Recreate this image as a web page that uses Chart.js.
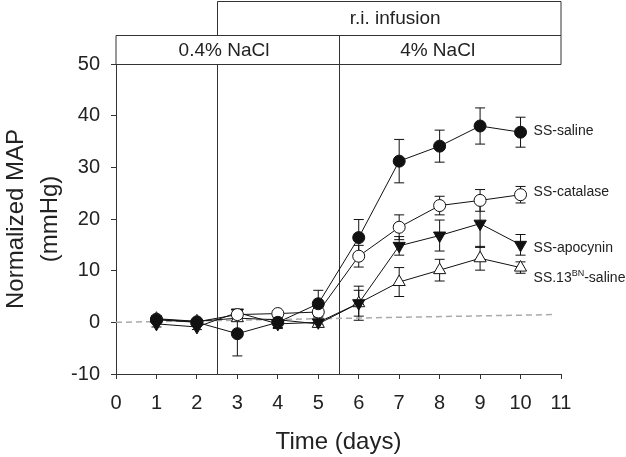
<!DOCTYPE html>
<html>
<head>
<meta charset="utf-8">
<title>Normalized MAP</title>
<script src="https://cdn.jsdelivr.net/npm/chart.js@4.4.1/dist/chart.umd.min.js"></script>
<style>
    body { margin: 0; background: #fff; }
    #chart { display: block; }
</style>
</head>
<body>
<canvas id="chart" width="626" height="457"></canvas>
<script>
// dados (dias 1-10)
const days = [1, 2, 3, 4, 5, 6, 7, 8, 9, 10];

const saline = [0.5, 0.0, -2.2, 0.0, 3.6, 16.4, 31.2, 34.1, 38.0, 36.8];
const salineErr = [0.7, 0.5, 4.3, 1.0, 2.6, 3.5, 4.2, 3.1, 3.5, 2.9];

const catalase = [0.6, 0.1, 1.5, 1.7, 2.0, 12.8, 18.4, 22.6, 23.6, 24.7];
const catalaseErr = [0.5, 0.4, 0.6, 0.5, 0.8, 2.1, 2.4, 1.8, 2.1, 1.6];

const apocynin = [-0.3, -0.9, 1.9, -0.3, 0.0, 3.7, 14.8, 16.8, 19.1, 15.0];
const apocyninErr = [0.6, 0.5, 0.5, 0.9, 0.4, 2.5, 1.8, 3.0, 4.6, 2.0];

const bnSaline = [0.7, 0.2, 0.8, 0.5, -0.3, 3.7, 7.8, 10.1, 12.4, 10.6];
const bnSalineErr = [0.6, 0.4, 0.5, 0.5, 0.6, 3.3, 2.8, 2.1, 2.3, 1.1];

// linha de referência tracejada
const baselineX = [0, 10.8];
const baselineY = [0, 1.5];

// eixos
const xTicks = [0, 11];
const yTicks = [-10, 50];

// fases do protocolo
const phaseLines = [2.5, 5.5];
const phaseLabels = ['r.i. infusion', '0.4% NaCl', '4% NaCl'];

const FONT = '"Liberation Sans", Arial, sans-serif';
const INK = '#222';

const toPoints = (xs, ys) => xs.map((x, i) => ({ x, y: ys[i] }));

function seriesDataset(label, values, errors, style) {
    return {
        label,
        data: toPoints(days, values),
        errors,
        borderColor: '#111',
        borderWidth: 1,
        pointStyle: style.shape,
        pointRotation: style.rotation || 0,
        pointRadius: style.radius,
        pointHoverRadius: style.radius,
        pointBackgroundColor: style.fill,
        pointBorderColor: '#111',
        pointBorderWidth: 1,
        tension: 0
    };
}

// barras de erro desenhadas antes dos marcadores
const errorBars = {
    id: 'errorBars',
    beforeDatasetsDraw(chart) {
        const { ctx, scales: { x, y } } = chart;
        ctx.save();
        ctx.strokeStyle = '#111';
        ctx.lineWidth = 1;
        chart.data.datasets.forEach(ds => {
            if (!ds.errors) return;
            ds.data.forEach((p, i) => {
                const px = x.getPixelForValue(p.x);
                const top = y.getPixelForValue(p.y + ds.errors[i]);
                const bottom = y.getPixelForValue(p.y - ds.errors[i]);
                ctx.beginPath();
                ctx.moveTo(px, top);
                ctx.lineTo(px, bottom);
                ctx.moveTo(px - 5, top);
                ctx.lineTo(px + 5, top);
                ctx.moveTo(px - 5, bottom);
                ctx.lineTo(px + 5, bottom);
                ctx.stroke();
            });
        });
        ctx.restore();
    }
};

// caixas do protocolo acima do gráfico e linhas verticais
const phaseBoxes = {
    id: 'phaseBoxes',
    beforeDatasetsDraw(chart) {
        const { ctx, chartArea, scales: { x } } = chart;
        const left = chartArea.left;
        const right = x.getPixelForValue(xTicks[1]);
        const startInf = Math.round(x.getPixelForValue(phaseLines[0])) + 0.5;
        const startSalt = Math.round(x.getPixelForValue(phaseLines[1])) + 0.5;
        const yTop = 1.5;
        const yMid = 35.5;
        const yBot = chartArea.top + 0.5;

        ctx.save();
        ctx.strokeStyle = '#333';
        ctx.lineWidth = 1;
        ctx.beginPath();
        ctx.rect(startInf, yTop, right - startInf, yMid - yTop);
        ctx.rect(left, yMid, right - left, yBot - yMid);
        ctx.moveTo(startSalt, yMid);
        ctx.lineTo(startSalt, chartArea.bottom);
        ctx.moveTo(startInf, yBot);
        ctx.lineTo(startInf, chartArea.bottom);
        ctx.stroke();

        ctx.fillStyle = INK;
        ctx.font = '19px ' + FONT;
        ctx.textAlign = 'center';
        ctx.textBaseline = 'middle';
        ctx.fillText(phaseLabels[0], x.getPixelForValue(6.9), 19);
        ctx.fillText(phaseLabels[1], x.getPixelForValue(2.67), 51);
        ctx.fillText(phaseLabels[2], x.getPixelForValue(7.95), 51);
        ctx.restore();
    }
};

// rótulos das séries ao lado do último ponto
const seriesLabels = {
    id: 'seriesLabels',
    afterDatasetsDraw(chart) {
        const { ctx, scales: { x, y } } = chart;
        const offsets = { 'SS-saline': -1, 'SS-catalase': -3, 'SS-apocynin': 3, 'SS.13BN-saline': 11 };
        ctx.save();
        ctx.fillStyle = INK;
        ctx.textBaseline = 'middle';
        ctx.textAlign = 'left';
        chart.data.datasets.forEach(ds => {
            if (!ds.errors) return;
            const last = ds.data[ds.data.length - 1];
            let px = x.getPixelForValue(last.x) + 13;
            const py = y.getPixelForValue(last.y) + offsets[ds.label];
            ctx.font = '14px ' + FONT;
            if (ds.label === 'SS.13BN-saline') {
                ctx.fillText('SS.13', px, py);
                px += ctx.measureText('SS.13').width;
                ctx.font = '9px ' + FONT;
                ctx.fillText('BN', px, py - 5);
                px += ctx.measureText('BN').width;
                ctx.font = '14px ' + FONT;
                ctx.fillText('-saline', px, py);
            } else {
                ctx.fillText(ds.label, px, py);
            }
        });
        ctx.restore();
    }
};

const datasets = [
    seriesDataset('SS-saline', saline, salineErr, { shape: 'circle', radius: 6, fill: '#111' }),
    seriesDataset('SS-catalase', catalase, catalaseErr, { shape: 'circle', radius: 6, fill: '#fff' }),
    seriesDataset('SS-apocynin', apocynin, apocyninErr, { shape: 'triangle', rotation: 180, radius: 7, fill: '#111' }),
    seriesDataset('SS.13BN-saline', bnSaline, bnSalineErr, { shape: 'triangle', radius: 7, fill: '#fff' }),
    {
        label: 'baseline',
        data: toPoints(baselineX, baselineY),
        borderColor: '#aaa',
        borderWidth: 1.5,
        borderDash: [6, 4],
        pointRadius: 0,
        order: 10
    }
];

const axisGrid = {
    display: true,
    drawOnChartArea: false,
    drawTicks: true,
    tickLength: 5,
    color: '#333'
};

new Chart(document.getElementById('chart').getContext('2d'), {
    type: 'line',
    data: { datasets },
    options: {
        responsive: false,
        animation: false,
        devicePixelRatio: 1,
        layout: { padding: { left: 0, right: 65, top: 64, bottom: 0 } },
        plugins: {
            legend: { display: false },
            tooltip: { enabled: false }
        },
        scales: {
            x: {
                type: 'linear',
                min: xTicks[0],
                max: xTicks[1],
                ticks: { stepSize: 1, padding: 12, color: INK, font: { family: FONT, size: 20 } },
                grid: axisGrid,
                border: { display: true, color: '#333', width: 1 },
                title: {
                    display: true,
                    text: 'Time (days)',
                    color: INK,
                    font: { family: FONT, size: 24 },
                    padding: { top: 0, bottom: 0 }
                },
                afterFit(scale) { scale.height = 83; }
            },
            y: {
                type: 'linear',
                min: yTicks[0],
                max: yTicks[1],
                ticks: { stepSize: 10, padding: 11, color: INK, font: { family: FONT, size: 20 } },
                grid: axisGrid,
                border: { display: true, color: '#333', width: 1 },
                title: {
                    display: true,
                    text: ['Normalized MAP', '(mmHg)'],
                    color: INK,
                    font: { family: FONT, size: 24, lineHeight: 1.4 },
                    padding: { top: 0, bottom: 0 }
                },
                afterFit(scale) { scale.width = 116; }
            }
        }
    },
    plugins: [phaseBoxes, errorBars, seriesLabels]
});
</script>
</body>
</html>
